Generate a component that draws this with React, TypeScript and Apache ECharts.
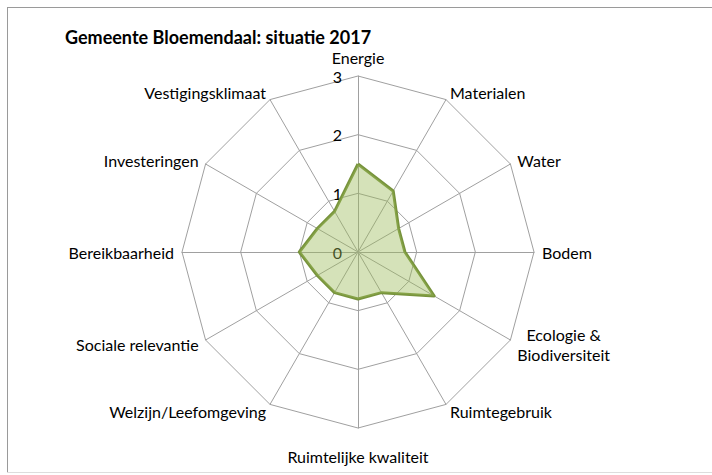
import React, { useEffect, useRef } from 'react';
import * as echarts from 'echarts';

// Categories in clockwise order, starting at the top
const categories = [
  'Energie',
  'Materialen',
  'Water',
  'Bodem',
  'Ecologie &\nBiodiversiteit',
  'Ruimtegebruik',
  'Ruimtelijke kwaliteit',
  'Welzijn/Leefomgeving',
  'Sociale relevantie',
  'Bereikbaarheid',
  'Investeringen',
  'Vestigingsklimaat',
];
const values2017 = [1.5, 1.2, 0.8, 0.8, 1.5, 0.8, 0.8, 0.8, 0.8, 1.0, 0.8, 0.8];
const scaleMin = 0;
const scaleMax = 3;
const scaleStep = 1;
const chartTitle = 'Gemeente Bloemendaal: situatie 2017';

const FONT = 'Lato, "Open Sans", sans-serif';

export default function App() {
  const ref = useRef<HTMLDivElement>(null);

  useEffect(() => {
    document.body.style.margin = '0';
    if (!ref.current) return;
    const chart = echarts.init(ref.current, null, { renderer: 'svg' });

    // ECharts radar runs counter-clockwise; reorder so the picture reads clockwise
    const order = [0, ...categories.map((_, i) => i).slice(1).reverse()];
    const gapFor = (name: string) =>
      name === 'Energie' ? 19 : name === 'Ruimtelijke kwaliteit' ? 28 : 8;

    const indicator = order.map((i) => ({
      name: categories[i],
      min: scaleMin,
      max: scaleMax,
      nameGap: gapFor(categories[i]),
    }));
    const data = order.map((i) => values2017[i]);

    const cx = 358;
    const cy = 252;
    const R = 176;

    chart.setOption({
      animation: false,
      backgroundColor: '#ffffff',
      title: {
        text: chartTitle,
        left: 60,
        top: 23,
        padding: 5,
        textStyle: {
          fontFamily: FONT,
          fontSize: 18,
          lineHeight: 18,
          fontWeight: 'bold',
          color: '#000000',
        },
      },
      graphic: [
        { type: 'line', shape: { x1: 7.5, y1: 7, x2: 7.5, y2: 473 }, style: { stroke: '#9a9a9a', lineWidth: 1 } },
        { type: 'line', shape: { x1: 7, y1: 7.5, x2: 712, y2: 7.5 }, style: { stroke: '#9a9a9a', lineWidth: 1 } },
        { type: 'line', shape: { x1: 7, y1: 472.5, x2: 712, y2: 472.5 }, style: { stroke: '#dddddd', lineWidth: 1 } },
      ],
      radar: {
        center: [cx, cy],
        radius: R,
        startAngle: 90,
        splitNumber: 3,
        shape: 'polygon',
        indicator,
        axisName: {
          color: '#000000',
          fontFamily: FONT,
          fontSize: 16,
          verticalAlign: 'middle',
          formatter: (name: string) =>
            name.indexOf('\n') >= 0
              ? name.split('\n').map((s) => `{c|${s}}`).join('\n')
              : name,
          rich: {
            c: {
              align: 'center',
              fontFamily: FONT,
              fontSize: 16,
              lineHeight: 20,
              color: '#000000',
            },
          },
        },
        axisLine: { lineStyle: { color: '#a0a0a0', width: 1 } },
        splitLine: { lineStyle: { color: '#a0a0a0', width: 1 } },
        splitArea: { show: false },
        axisTick: { show: false },
        axisLabel: { show: false },
      },
      grid: {
        left: cx,
        top: cy - R,
        width: 1,
        height: R,
      },
      xAxis: { type: 'value', show: false, min: 0, max: 1 },
      yAxis: {
        type: 'value',
        min: scaleMin,
        max: scaleMax,
        interval: scaleStep,
        axisLine: { show: false },
        axisTick: { show: false },
        splitLine: { show: false },
        axisLabel: {
          margin: 16,
          fontFamily: FONT,
          fontSize: 16,
          color: '#000000',
        },
      },
      series: [
        {
          type: 'radar',
          symbol: 'none',
          lineStyle: { color: '#77933c', width: 3 },
          areaStyle: { color: '#9bbb59', opacity: 0.42 },
          data: [{ value: data, name: '2017' }],
        },
      ],
    });

    return () => chart.dispose();
  }, []);

  return <div ref={ref} style={{ width: 712, height: 475 }} />;
}
